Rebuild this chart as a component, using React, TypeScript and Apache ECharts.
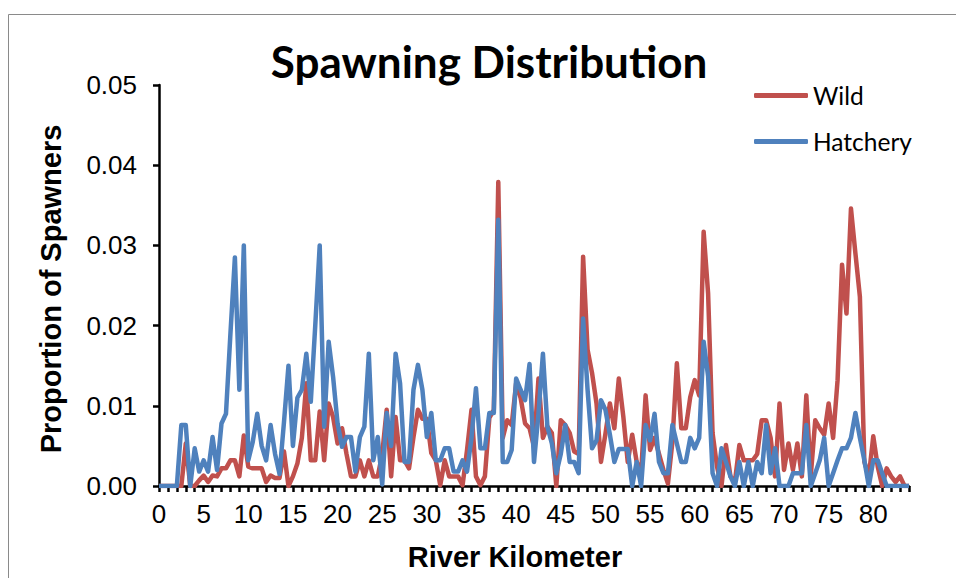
import React, { useEffect, useRef } from "react";
import * as echarts from "echarts";

// River kilometre categories, 0 to 84 km in 0.5 km steps
const riverKm: string[] = Array.from({ length: 169 }, (_, i) => String(i / 2));
const yTicks = [0, 0.01, 0.02, 0.03, 0.04, 0.05];

// Proportion of spawners (rows of 5 km, 0.5 km steps)
const wildProportion = [
  0, 0, 0, 0, 0, 0, 0.0053, 0, 0, 0.0007, // 0-4.5
  0.0013, 0.0005, 0.0013, 0.0012, 0.0022, 0.0022, 0.0032, 0.0032, 0.0012, 0.0063, // 5-9.5
  0.0024, 0.0022, 0.0022, 0.0022, 0.0005, 0.0013, 0.001, 0.001, 0.0043, 0, // 10-14.5
  0.0012, 0.0028, 0.006, 0.0128, 0.0032, 0.0032, 0.0093, 0.0032, 0.0103, 0.0086, // 15-19.5
  0.0053, 0.0072, 0.004, 0.0012, 0.0012, 0.0032, 0.0012, 0.0032, 0.0012, 0.0012, // 20-24.5
  0.004, 0.0095, 0.0012, 0.0086, 0.0032, 0.0032, 0.0022, 0.0061, 0.0095, 0.0084, // 25-29.5
  0.0084, 0.0041, 0.0032, 0.0001, 0.0032, 0.0012, 0.0012, 0.0012, 0.0001, 0.0045, // 30-34.5
  0.0095, 0.0012, 0.0001, 0.0012, 0.0085, 0.0095, 0.0379, 0.006, 0.0082, 0.0076, // 35-39.5
  0.0128, 0.011, 0.0078, 0.0072, 0.0049, 0.0134, 0.006, 0.0074, 0.0066, 0, // 40-44.5
  0.0082, 0.0076, 0.0066, 0.0043, 0.004, 0.0286, 0.017, 0.0141, 0.0103, 0.003, // 45-49.5
  0.0065, 0.0103, 0.0072, 0.0134, 0.0087, 0.003, 0.0064, 0.003, 0.0016, 0.0113, // 50-54.5
  0.0045, 0.006, 0.004, 0.002, 0.0003, 0.0055, 0.0153, 0.0072, 0.0072, 0.0111, // 55-59.5
  0.0132, 0.0113, 0.0317, 0.024, 0.0066, 0.0024, 0, 0.0051, 0.0012, 0.0005, // 60-64.5
  0.0051, 0.0032, 0.0032, 0.0032, 0.004, 0.0082, 0.0082, 0.006, 0.0012, 0.0103, // 65-69.5
  0.002, 0.0053, 0.002, 0.0053, 0.0012, 0.0113, 0.0013, 0.0082, 0.0072, 0.0064, // 70-74.5
  0.0103, 0.006, 0.0132, 0.0276, 0.0215, 0.0346, 0.029, 0.0236, 0.003, 0.0012, // 75-79.5
  0.0062, 0.0024, 0, 0.0022, 0.0012, 0.0005, 0.0012, 0, 0, // 80-84
];

const hatcheryProportion = [
  0, 0, 0, 0, 0, 0.0076, 0.0076, 0, 0.0047, 0.0018, // 0-4.5
  0.0032, 0.0018, 0.0061, 0.002, 0.0078, 0.009, 0.019, 0.0285, 0.012, 0.03, // 5-9.5
  0.0032, 0.0055, 0.009, 0.005, 0.0032, 0.0076, 0.004, 0.0015, 0.008, 0.015, // 10-14.5
  0.005, 0.011, 0.012, 0.0165, 0.0105, 0.02, 0.03, 0.0074, 0.018, 0.0136, // 15-19.5
  0.0078, 0.0049, 0.0061, 0.0061, 0.0018, 0.0061, 0.0074, 0.0165, 0.0032, 0.0061, // 20-24.5
  0.0002, 0.0091, 0.005, 0.0165, 0.0128, 0.003, 0.003, 0.012, 0.0151, 0.012, // 25-29.5
  0.0061, 0.0091, 0.0032, 0.0032, 0.0047, 0.0047, 0.0018, 0.0018, 0.0032, 0.0018, // 30-34.5
  0.006, 0.0122, 0.0047, 0.0047, 0.0091, 0.0091, 0.0332, 0.003, 0.003, 0.0045, // 35-39.5
  0.0134, 0.012, 0.0107, 0.0152, 0.003, 0.009, 0.0165, 0.0074, 0.0053, 0.0016, // 40-44.5
  0.004, 0.0076, 0.003, 0.003, 0.0016, 0.0209, 0.012, 0.0047, 0.0057, 0.0107, // 45-49.5
  0.0095, 0.0064, 0.003, 0.0046, 0.0046, 0.0046, 0, 0.003, 0, 0.0076, // 50-54.5
  0.0057, 0.009, 0.003, 0.0016, 0.0016, 0.0076, 0.0053, 0.003, 0.003, 0.006, // 55-59.5
  0.0047, 0.006, 0.018, 0.0137, 0.0016, 0, 0.0047, 0.003, 0.0012, 0, // 60-64.5
  0.003, 0, 0.003, 0, 0.003, 0.0016, 0.0076, 0.0016, 0.0047, 0, // 65-69.5
  0, 0, 0.0016, 0.0016, 0.0016, 0.0076, 0, 0.0016, 0.0032, 0.006, // 70-74.5
  0, 0.0016, 0.0032, 0.0047, 0.0047, 0.006, 0.0091, 0.006, 0.0032, 0, // 75-79.5
  0.0032, 0.0032, 0.0016, 0, 0, 0, 0, 0, 0, // 80-84
];

const seriesNames = ["Wild", "Hatchery"];
const seriesColors = ["#C0504D", "#4F81BD"];
const chartTitle = "Spawning Distribution";
const xTitle = "River Kilometer";
const yTitle = "Proportion of Spawners";

export default function App() {
  const ref = useRef<HTMLDivElement>(null);

  useEffect(() => {
    if (!ref.current) return;
    const chart = echarts.init(ref.current, null, { renderer: "svg" });
    const axisFont = "'Liberation Sans', Arial, sans-serif";
    chart.setOption({
      animation: false,
      backgroundColor: "#ffffff",
      graphic: [
        {
          type: "rect",
          shape: { x: 8.5, y: 14.5, width: 1000, height: 1000 },
          style: { fill: "none", stroke: "#8a8a8a", lineWidth: 1 },
          silent: true,
        },
        {
          type: "text",
          x: 489,
          y: 61,
          style: {
            text: chartTitle,
            align: "center",
            verticalAlign: "middle",
            font: "bold 44px Lato, 'Open Sans', sans-serif",
            fill: "#000000",
          },
        },
        {
          type: "text",
          x: 515,
          y: 557,
          style: {
            text: xTitle,
            align: "center",
            verticalAlign: "middle",
            font: "bold 29px 'Liberation Sans', Arial, sans-serif",
            fill: "#000000",
          },
        },
        {
          type: "text",
          x: 51,
          y: 289,
          rotation: Math.PI / 2,
          style: {
            text: yTitle,
            align: "center",
            verticalAlign: "middle",
            font: "bold 29px 'Liberation Sans', Arial, sans-serif",
            fill: "#000000",
          },
        },
      ],
      legend: {
        orient: "vertical",
        left: 749,
        top: 78,
        itemWidth: 54,
        itemHeight: 5,
        itemGap: 21,
        icon: "roundRect",
        textStyle: { fontFamily: "Lato, sans-serif", fontSize: 24.5, color: "#000" },
        data: seriesNames,
      },
      grid: { left: 159, right: 47, top: 85, bottom: 92, containLabel: false },
      xAxis: {
        type: "category",
        data: riverKm,
        boundaryGap: false,
        axisLine: { lineStyle: { color: "#000", width: 2.5 } },
        axisTick: { show: true, interval: 1, length: 6, inside: false, lineStyle: { color: "#000", width: 2.5 } },
        axisLabel: { interval: 9, fontFamily: axisFont, fontSize: 26, color: "#000", margin: 15 },
        splitLine: { show: false },
      },
      yAxis: {
        type: "value",
        min: yTicks[0],
        max: yTicks[yTicks.length - 1],
        interval: 0.01,
        axisLine: { show: true, lineStyle: { color: "#000", width: 2.5 } },
        axisTick: { show: true, length: 6, lineStyle: { color: "#000", width: 2.5 } },
        axisLabel: {
          fontFamily: axisFont,
          fontSize: 26,
          color: "#000",
          margin: 22,
          formatter: (v: number) => v.toFixed(2),
        },
        splitLine: { show: false },
      },
      series: [
        {
          name: seriesNames[0],
          type: "line",
          data: wildProportion,
          showSymbol: false,
          symbol: "none",
          lineStyle: { color: seriesColors[0], width: 4.5, join: "round" },
          itemStyle: { color: seriesColors[0] },
        },
        {
          name: seriesNames[1],
          type: "line",
          data: hatcheryProportion,
          showSymbol: false,
          symbol: "none",
          lineStyle: { color: seriesColors[1], width: 4.5, join: "round" },
          itemStyle: { color: seriesColors[1] },
        },
      ],
    });
    return () => chart.dispose();
  }, []);

  return (
    <div
      ref={ref}
      style={{ position: "fixed", left: 0, top: 0, width: 956, height: 578 }}
    />
  );
}
